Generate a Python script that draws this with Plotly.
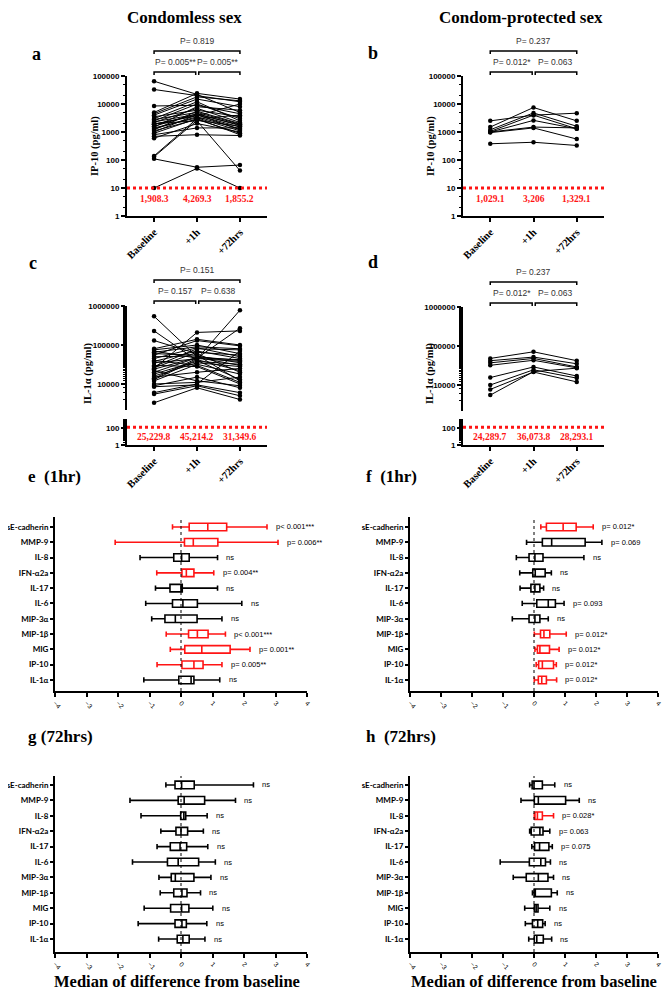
import math
import plotly.graph_objects as go

# page body keeps an 8px margin, so the figure is 16px smaller than the window
OFF = 8
W, H = 672 - 2 * OFF, 1000 - 2 * OFF

stages = ["Baseline", "+1h", "+72hrs"]

# a: IP-10 (pg/ml), condomless sex, one entry per participant
a_base = [65000, 33000, 8500, 5000, 4500, 4000, 3500, 3000, 2800, 2500, 2300, 2200, 2000, 1900, 1900,
          1600, 1500, 1400, 1300, 1200, 1100, 1000, 900, 800, 700, 600, 140, 130, 110, 10]
a_1h = [22000, 20000, 9000, 24000, 18000, 15000, 6000, 12000, 5000, 10000, 4300, 7000, 2500, 4000, 3800,
        4500, 8000, 3200, 3500, 5500, 2800, 4200, 3000, 1400, 800, 2000, 3000, 2600, 55, 50]
a_72h = [5000, 12000, 4500, 15000, 13000, 8000, 3500, 2500, 1900, 3000, 1800, 2200, 42, 1500, 10000,
         1700, 6000, 1100, 1300, 2000, 900, 1200, 800, 1400, 750, 1000, 4000, 1600, 66, 10]
a_medians = ["1,908.3", "4,269.3", "1,855.2"]
a_pvals = ["P= 0.005**", "P= 0.005**", "P= 0.819"]

# b: IP-10 (pg/ml), condom-protected sex
b_base = [2500, 1500, 1200, 1000, 1000, 950, 1050, 380]
b_1h = [4000, 7500, 4800, 2600, 1500, 1400, 4000, 430]
b_72h = [4700, 2500, 1600, 1300, 1400, 560, 1300, 330]
b_medians = ["1,029.1", "3,206", "1,329.1"]
b_pvals = ["P= 0.012*", "P= 0.063", "P= 0.237"]

# c: IL-1a (pg/ml), condomless sex
c_base = [545000, 230000, 130000, 80000, 75000, 70000, 65000, 60000, 55000, 50000, 45000, 40000, 38000,
          35000, 30000, 28000, 26000, 25000, 24000, 22000, 20000, 18000, 16000, 15000, 14000, 13000,
          12000, 10000, 9000, 8500, 6000, 5500, 3300]
c_1h = [50000, 40000, 60000, 140000, 100000, 46000, 90000, 55000, 130000, 52000, 85000, 30000, 70000,
        44000, 28000, 80000, 65000, 210000, 48000, 12000, 47000, 38000, 35000, 20000, 45000, 42000,
        32000, 11000, 15000, 9500, 10000, 9000, 8000]
c_72h = [40000, 13000, 20000, 100000, 60000, 270000, 80000, 12000, 95000, 35000, 50000, 11000, 45000,
         780000, 10000, 75000, 55000, 230000, 30000, 9000, 42000, 32000, 28000, 25000, 38000, 22000,
         18000, 15000, 8000, 6000, 70000, 5000, 4000]
c_medians = ["25,229.8", "45,214.2", "31,349.6"]
c_pvals = ["P= 0.157", "P= 0.638", "P= 0.151"]

# d: IL-1a (pg/ml), condom-protected sex
d_base = [48000, 42000, 37000, 32000, 15500, 10000, 7700, 5500]
d_1h = [71000, 52000, 48000, 43000, 29000, 24500, 21500, 22000]
d_72h = [42000, 35000, 29000, 27500, 17000, 15000, 12000, 27000]
d_medians = ["24,289.7", "36,073.8", "28,293.1"]
d_pvals = ["P= 0.012*", "P= 0.063", "P= 0.237"]

# e-h: log change from baseline, whisker-low, q1, median, q3, whisker-high
cytokines = ["sE-cadherin", "MMP-9", "IL-8", "IFN-α2a", "IL-17", "IL-6",
             "MIP-3α", "MIP-1β", "MIG", "IP-10", "IL-1α"]

e_low = [-0.27, -2.09, -1.30, -0.77, -0.81, -1.12, -0.93, -0.47, -0.34, -0.76, -1.18]
e_q1 = [0.26, 0.11, -0.23, 0.03, -0.35, -0.27, -0.51, 0.24, 0.12, 0.03, -0.07]
e_med = [0.85, 0.39, 0.02, 0.17, 0.00, 0.06, -0.18, 0.52, 0.66, 0.41, 0.32]
e_q3 = [1.45, 1.17, 0.26, 0.41, 0.04, 0.52, 0.51, 0.86, 1.56, 0.70, 0.41]
e_high = [2.73, 3.08, 1.16, 1.04, 1.16, 1.93, 1.30, 1.41, 2.19, 1.30, 1.23]
e_p = ["p< 0.001***", "p= 0.006**", "ns", "p= 0.004**", "ns", "ns", "ns",
       "p< 0.001***", "p= 0.001**", "p= 0.005**", "ns"]

f_low = [0.22, -0.24, -0.57, -0.46, -0.45, -0.38, -0.70, 0.01, 0.03, 0.07, 0.01]
f_q1 = [0.40, 0.27, -0.16, -0.04, -0.10, 0.09, -0.16, 0.21, 0.11, 0.15, 0.14]
f_med = [0.94, 0.57, 0.03, 0.04, 0.03, 0.46, 0.03, 0.32, 0.19, 0.27, 0.25]
f_q3 = [1.36, 1.65, 0.29, 0.36, 0.19, 0.69, 0.19, 0.51, 0.50, 0.63, 0.40]
f_high = [1.91, 2.19, 1.61, 0.56, 0.31, 0.97, 0.46, 1.04, 0.81, 0.72, 0.73]
f_p = ["p= 0.012*", "p= 0.069", "ns", "ns", "ns", "p= 0.093", "ns",
       "p= 0.012*", "p= 0.012*", "p= 0.012*", "p= 0.012*"]

g_low = [-0.48, -1.62, -1.27, -0.64, -0.76, -1.54, -0.70, -0.66, -1.17, -1.36, -0.71]
g_q1 = [-0.19, -0.09, -0.01, -0.16, -0.34, -0.43, -0.31, -0.23, -0.33, -0.19, -0.12]
g_med = [0.02, 0.10, 0.09, 0.00, -0.03, -0.09, -0.18, 0.03, 0.02, 0.03, 0.06]
g_q3 = [0.42, 0.75, 0.15, 0.21, 0.18, 0.56, 0.41, 0.19, 0.25, 0.17, 0.26]
g_high = [2.30, 1.73, 0.83, 0.71, 0.85, 1.09, 0.95, 0.62, 1.01, 0.82, 0.76]
g_p = ["ns"] * 11

h_low = [-0.14, -0.42, 0.01, -0.14, -0.07, -1.09, -0.67, -0.05, -0.30, -0.28, -0.17]
h_q1 = [-0.06, 0.01, 0.03, -0.09, 0.02, -0.15, -0.25, 0.01, 0.01, -0.05, 0.01]
h_med = [0.00, 0.14, 0.11, 0.19, 0.18, 0.22, 0.14, 0.03, 0.07, 0.12, 0.09]
h_q3 = [0.27, 1.02, 0.27, 0.29, 0.48, 0.37, 0.45, 0.56, 0.13, 0.28, 0.30]
h_high = [0.67, 1.46, 0.63, 0.51, 0.59, 0.53, 0.63, 0.75, 0.51, 0.36, 0.57]
h_p = ["ns", "ns", "p= 0.028*", "p= 0.063", "p= 0.075", "ns", "ns", "ns", "ns", "ns", "ns"]

RED = "#ff1414"
SERIF = "Liberation Serif"
SANS = "Liberation Sans"


# window pixel -> paper coords
def X(p):
    return (p - OFF) / W


def Y(p):
    return 1 - (p - OFF) / H


fig = go.Figure()
shapes = []
annotations = []


def text(x, y, s, size, family=SERIF, color="black", bold=True, xref="paper", yref="paper",
         xanchor="center", yanchor="middle", angle=0):
    annotations.append(dict(x=x, y=y, xref=xref, yref=yref, text=s, showarrow=False,
                            xanchor=xanchor, yanchor=yanchor, textangle=angle,
                            font=dict(family=family, size=size, color=color,
                                      weight="bold" if bold else "normal")))


log_axis = dict(type="log", showline=True, linewidth=2, linecolor="black", ticks="outside",
                ticklen=4, tickwidth=1.5, tickcolor="black", showgrid=False, zeroline=False,
                tickfont=dict(family=SANS, size=8, color="black", weight="bold"),
                minor=dict(ticks="outside", ticklen=2, tickwidth=1, tickcolor="black", showgrid=False))

cat_axis = dict(showline=True, linewidth=2, linecolor="black", ticks="outside", ticklen=4,
                tickwidth=1.5, tickcolor="black", showgrid=False, zeroline=False, range=[-0.63, 2.63],
                tickvals=[0, 1, 2], ticktext=stages, tickangle=-45,
                tickfont=dict(family=SERIF, size=10.5, color="black", weight="bold"))


def add_lines(xa, ya, base, h1, h72):
    for b, m, l in zip(base, h1, h72):
        fig.add_trace(go.Scatter(x=[0, 1, 2], y=[b, m, l], xaxis=xa, yaxis=ya, mode="lines+markers",
                                 line=dict(color="black", width=1), marker=dict(size=4.5, color="black"),
                                 showlegend=False, hoverinfo="skip"))


def add_brackets(xa, top_px, pvals):
    # top_px: window y of the outer P text
    outer_y = top_px + 10
    inner_t = top_px + 21
    inner_y = top_px + 31
    d = 3
    for x0, x1, yy in [(0, 2, outer_y), (0, 0.97, inner_y), (1.04, 2, inner_y)]:
        shapes.append(dict(type="path", xref=xa, yref="paper",
                           path=f"M {x0},{Y(yy + d)} L {x0},{Y(yy)} L {x1},{Y(yy)} L {x1},{Y(yy + d)}",
                           line=dict(color="black", width=1.5)))
    text(1, Y(top_px), pvals[2], 8.5, SANS, "#333", False, xref=xa)
    text(0.5, Y(inner_t), pvals[0], 8.5, SANS, "#333", False, xref=xa)
    text(1.5, Y(inner_t), pvals[1], 8.5, SANS, "#333", False, xref=xa)


def add_medians(xa, ya, yval, medians):
    for i, m in enumerate(medians):
        text(i, math.log10(yval), m, 9.5, SERIF, RED, True, xref=xa, yref=ya)


def add_lod(xa, ya, yval):
    shapes.append(dict(type="line", xref=xa + " domain", yref=ya, x0=0, x1=1, y0=yval, y1=yval,
                       line=dict(color=RED, width=3, dash="3px,3px")))


layout = {}
decades5 = [1, 10, 100, 1000, 10000, 100000]

# ---- a ----
layout["xaxis"] = dict(cat_axis, domain=[X(127), X(267)], anchor="y")
layout["yaxis"] = dict(log_axis, domain=[Y(216), Y(76)], range=[0, 5], anchor="x",
                       tickvals=decades5, ticktext=[str(v) for v in decades5])
add_lines("x", "y", a_base, a_1h, a_72h)
add_lod("x", "y", 10)
add_medians("x", "y", 4, a_medians)
add_brackets("x", 41, a_pvals)

# ---- b ----
layout["xaxis2"] = dict(cat_axis, domain=[X(463), X(604)], anchor="y2")
layout["yaxis2"] = dict(log_axis, domain=[Y(216), Y(76)], range=[0, 5], anchor="x2",
                        tickvals=decades5, ticktext=[str(v) for v in decades5])
add_lines("x2", "y2", b_base, b_1h, b_72h)
add_lod("x2", "y2", 10)
add_medians("x2", "y2", 4, b_medians)
add_brackets("x2", 41, b_pvals)

# ---- c (broken axis) ----
layout["xaxis3"] = dict(cat_axis, domain=[X(127), X(267)], anchor="y4")
layout["yaxis3"] = dict(log_axis, domain=[Y(410), Y(306)], range=[3.333, 6], anchor="x3",
                        tickvals=[10000, 100000, 1000000], ticktext=["10000", "100000", "1000000"])
layout["yaxis4"] = dict(log_axis, domain=[Y(445), Y(419)], range=[0, 3.06], anchor="x3",
                        tickvals=[1, 100], ticktext=["1", "100"])
add_lines("x3", "y3", c_base, c_1h, c_72h)
add_lod("x3", "y4", 125)
add_medians("x3", "y4", 9, c_medians)
add_brackets("x3", 270, c_pvals)

# ---- d (broken axis) ----
layout["xaxis4"] = dict(cat_axis, domain=[X(463), X(604)], anchor="y6")
layout["yaxis5"] = dict(log_axis, domain=[Y(411), Y(307)], range=[3.333, 6], anchor="x4",
                        tickvals=[10000, 100000, 1000000], ticktext=["10000", "100000", "1000000"])
layout["yaxis6"] = dict(log_axis, domain=[Y(445), Y(419)], range=[0, 3.06], anchor="x4",
                        tickvals=[1, 100], ticktext=["1", "100"])
add_lines("x4", "y5", d_base, d_1h, d_72h)
add_lod("x4", "y6", 125)
add_medians("x4", "y6", 9, d_medians)
add_brackets("x4", 272, d_pvals)

# y titles for a-d
text(X(95), Y(146), "IP-10 (pg/ml)", 10.5, angle=-90)
text(X(431), Y(146), "IP-10 (pg/ml)", 10.5, angle=-90)
text(X(88), Y(374), "IL-1α (pg/ml)", 10.5, angle=-90)
text(X(430), Y(374), "IL-1α (pg/ml)", 10.5, angle=-90)

# ---- box panels ----
box_x = dict(range=[-4, 4], tick0=-4, dtick=1, showline=True, linewidth=2, linecolor="black",
             ticks="outside", ticklen=4, tickwidth=1.5, tickcolor="black", tickangle=45,
             showgrid=False, zeroline=False, tickfont=dict(family=SANS, size=6.5, color="black"))
box_y = dict(type="category", categoryarray=cytokines[::-1], categoryorder="array",
             showline=True, linewidth=2, linecolor="black", ticks="outside", ticklen=3,
             tickwidth=1.5, tickcolor="black", showgrid=False, zeroline=False,
             tickfont=dict(family="Lato", size=8, color="black", weight="bold"))


def add_boxes(xa, ya, low, q1, med, q3, high, pv):
    for name, lo, a, m, b, hi, p in zip(cytokines, low, q1, med, q3, high, pv):
        col = RED if "*" in p else "black"
        fig.add_trace(go.Box(y=[name], q1=[a], median=[m], q3=[b], lowerfence=[lo], upperfence=[hi],
                             orientation="h", xaxis=xa, yaxis=ya, boxpoints=False,
                             line=dict(color=col, width=1.6), fillcolor="rgba(255,255,255,0)",
                             whiskerwidth=0.7, showlegend=False, hoverinfo="skip"))
        text(hi + 0.22, name, p, 7.5, SANS, "black", False, xref=xa, yref=ya, xanchor="left")
    shapes.append(dict(type="line", xref=xa, yref=ya + " domain", x0=0, x1=0, y0=0, y1=1,
                       line=dict(color="black", width=1, dash="dot")))


panels = [
    ("x5", "y7", 55, 307, 517, 691, [-0.72, 10.65], (e_low, e_q1, e_med, e_q3, e_high, e_p)),
    ("x6", "y8", 410, 658, 517, 691, [-0.72, 10.65], (f_low, f_q1, f_med, f_q3, f_high, f_p)),
    ("x7", "y9", 55, 307, 776, 952, [-0.84, 10.58], (g_low, g_q1, g_med, g_q3, g_high, g_p)),
    ("x8", "y10", 410, 658, 776, 952, [-0.84, 10.58], (h_low, h_q1, h_med, h_q3, h_high, h_p)),
]
for xa, ya, x0, x1, y0, y1, yr, stats in panels:
    layout["xaxis" + xa[1:]] = dict(box_x, domain=[X(x0), X(x1)], anchor=ya)
    layout["yaxis" + ya[1:]] = dict(box_y, domain=[Y(y1), Y(y0)], range=yr, anchor=xa)
    add_boxes(xa, ya, *stats)

# titles and panel letters
text(X(184), Y(17), "Condomless sex", 17)
text(X(521), Y(17), "Condom-protected sex", 17)
text(X(30), Y(54), "a", 18, xanchor="left")
text(X(366), Y(53), "b", 18, xanchor="left")
text(X(27), Y(263), "c", 18, xanchor="left")
text(X(366), Y(262), "d", 18, xanchor="left")
text(X(26), Y(476), "e  (1hr)", 17, xanchor="left")
text(X(364), Y(476), "f  (1hr)", 17, xanchor="left")
text(X(26), Y(736), "g (72hrs)", 17, xanchor="left")
text(X(364), Y(736), "h  (72hrs)", 17, xanchor="left")
text(X(177), Y(981), "Median of difference from baseline", 16.5)
text(X(534), Y(981), "Median of difference from baseline", 16.5)

fig.update_layout(width=W, height=H, margin=dict(l=0, r=0, t=0, b=0), template="none",
                  font=dict(color="black"), plot_bgcolor="white", paper_bgcolor="white", boxgap=0.3,
                  shapes=shapes, annotations=annotations, **layout)

fig.write_html("out.html")
